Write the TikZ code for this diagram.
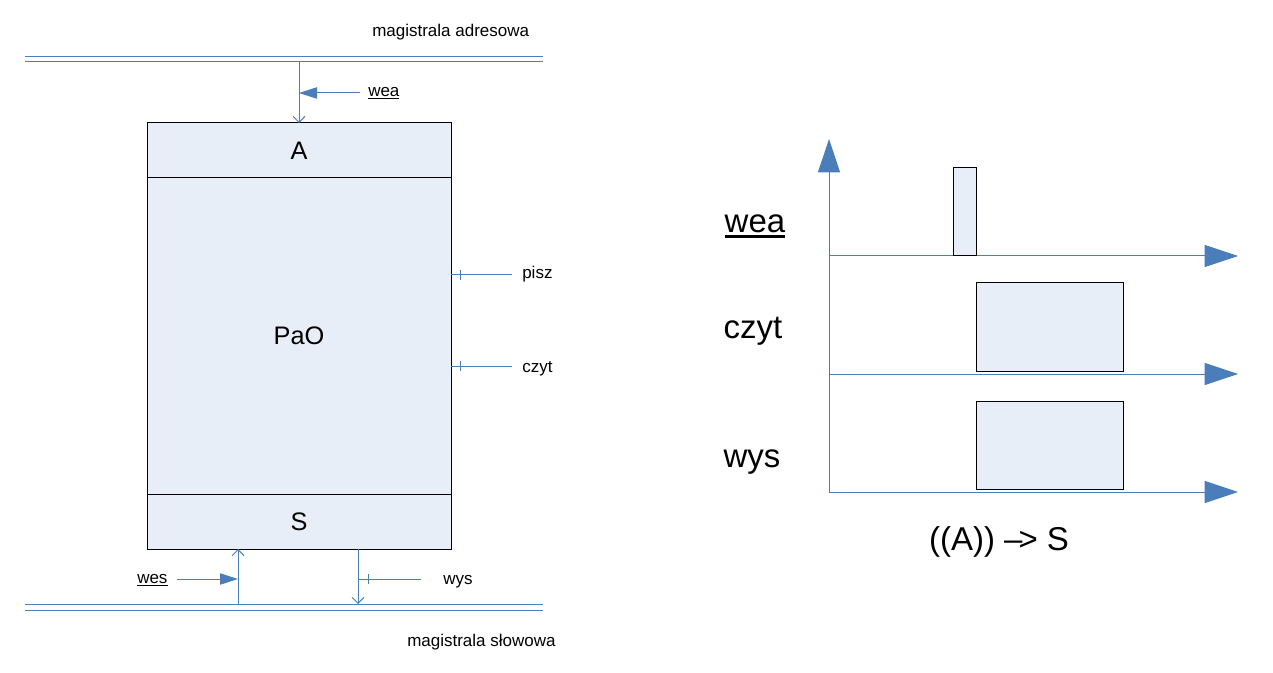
\documentclass[tikz,border=0pt]{standalone}
\usepackage{xcolor}
\usepackage{tikz}
\usetikzlibrary{arrows.meta}
\usepackage{fontspec}
\setmainfont{Liberation Sans}
\definecolor{linia}{RGB}{74,126,187}
\definecolor{tlo}{RGB}{232,238,247}
\newcommand{\podkr}[3]{\setbox0\hbox{#3}\rlap{\rule[-#1]{\wd0}{#2}}\box0}

\begin{document}
\begin{tikzpicture}[x=0.75pt, y=-0.75pt,
		wire/.style={linia, line width=0.75pt},
		ster/.style={wire, -{Triangle[length=13.5pt, width=8.5pt]}},
		wej/.style={wire, -{Straight Barb[length=4.5pt, width=9pt]}},
		os/.style={wire, -{Triangle[length=25pt, width=16.5pt]}},
		blok/.style={draw=black, fill=tlo, line width=0.75pt, inner sep=0pt, outer sep=0pt, minimum width=228pt, font=\fontsize{19}{22}\selectfont},
		puls/.style={draw=black, fill=tlo, line width=0.75pt},
		maly/.style={inner sep=0pt, anchor=base west, font=\fontsize{12.75}{15}\selectfont},
		duzy/.style={inner sep=0pt, anchor=base, font=\fontsize{24.75}{29}\selectfont}]
	\useasboundingbox (0,0) rectangle (1273,673);
	% magistrale
	\draw[wire] (25,57) -- (543,57);
	\draw[wire] (25,62) -- (543,62);
	\draw[wire] (25,604) -- (543,604);
	\draw[wire] (25,610) -- (543,610);
	\node[maly] (adresL) at (372,37) {magistrala adresowa};
	\node[maly] (slowoL) at (407,646) {magistrala słowowa};
	% rejestry
	\node[blok, minimum height=41.25pt] (A) at (299,150.5) {A};
	\node[blok, minimum height=237pt] (PaO) at (299,336) {PaO};
	\node[blok, minimum height=41.25pt] (S) at (299,521.5) {S};
	% wea
	\coordinate (weaK) at (299,62);
	\coordinate (weaS) at (360,93);
	\draw[wej] (weaK) -- (A.north);
	\draw[ster] (weaS) -- (weaK |- weaS);
	\node[maly] (weaL) at (368,96.5) {\podkr{2pt}{0.8pt}{wea}};
	% pisz, czyt
	\coordinate (piszS) at (512,275);
	\coordinate (piszT) at (460,275);
	\draw[wire] (piszS) -- (PaO.east |- piszS);
	\draw[wire] ([yshift=3.4pt]piszT) -- ([yshift=-3.4pt]piszT);
	\node[maly] (piszL) at (522,279) {pisz};
	\coordinate (czytS) at (512,366);
	\coordinate (czytT) at (460,366);
	\draw[wire] (czytS) -- (PaO.east |- czytS);
	\draw[wire] ([yshift=3.4pt]czytT) -- ([yshift=-3.4pt]czytT);
	\node[maly] (czytL) at (522,372) {czyt};
	% wes, wys
	\coordinate (wesB) at (238,604);
	\coordinate (wesS) at (177,579);
	\draw[wej] (wesB) -- (wesB |- S.south);
	\draw[ster] (wesS) -- (wesB |- wesS);
	\node[maly] (wesL) at (137,583) {\podkr{2pt}{0.8pt}{wes}};
	\coordinate (wysB) at (358,604);
	\coordinate (wysS) at (421,579);
	\coordinate (wysT) at (368,579);
	\draw[wej] (wysB |- S.south) -- (wysB);
	\draw[wire] (wysS) -- (wysB |- wysS);
	\draw[wire] ([yshift=3.4pt]wysT) -- ([yshift=-3.4pt]wysT);
	\node[maly] (wysL) at (443,584) {wys};
	% przebiegi
	\coordinate (O) at (829,492);
	\draw[os] (O) -- (829,139);
	\draw[os] (829,256) -- (1238,256);
	\draw[os] (829,374) -- (1238,374);
	\draw[os] (O) -- (1238,492);
	\draw[puls] (953,168) rectangle (976,256);
	\draw[puls] (976,283) rectangle (1123,371);
	\draw[puls] (976,401) rectangle (1123,489);
	\node[duzy] (weaP) at (755,233) {\podkr{3.75pt}{2.25pt}{wea}};
	\node[duzy] (czytP) at (753,339) {czyt};
	\node[duzy] (wysP) at (752,467) {wys};
	\node[duzy] (opis) at (999,550) {((A)) –\kern-3pt> S};
\end{tikzpicture}
\end{document}
